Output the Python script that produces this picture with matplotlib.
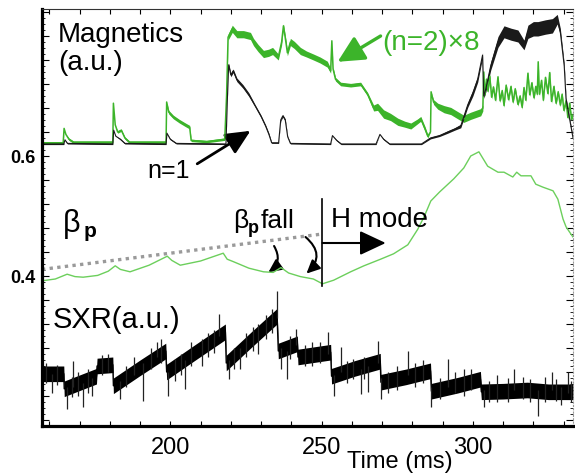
import numpy as np
import matplotlib
matplotlib.use("Agg")
import matplotlib.pyplot as plt
from matplotlib.patches import FancyArrowPatch
from matplotlib.ticker import MultipleLocator, FuncFormatter

plt.rcParams['font.family'] = ['Liberation Sans', 'DejaVu Sans']

# ---------------- data ----------------
# n=2 magnetic fluctuation amplitude (x8): time (ms), level, noise half-width
n2_t = [157.6, 164.6, 164.9, 165.5, 166.5, 168.0, 181.0, 181.2, 181.8, 182.6, 183.8, 185.0, 186.5,
        198.6, 198.8, 199.5, 201.0, 203.0, 205.0, 206.4, 206.9, 212.0, 218.0, 218.6, 219.1, 220.5,
        222.0, 224.2, 226.5, 227.5, 229.0, 230.8, 232.5, 233.8, 235.7, 236.8, 237.4, 238.2, 238.7,
        239.7, 241.0, 243.0, 245.0, 247.3, 249.5, 251.9, 253.0, 253.4, 253.8, 254.6, 256.3, 259.6,
        262.9, 265.2, 267.2, 268.5, 270.5, 272.8, 275.2, 277.5, 279.5, 281.8, 282.8, 284.2, 285.1,
        286.0, 286.2, 287.0, 288.4, 290.5, 292.7, 295.0, 297.0, 299.3, 302.6, 303.3,
        303.6, 304.0, 304.5, 305.0, 305.6, 306.2, 306.8, 307.5, 308.3, 309.0, 309.7, 310.3, 311.0,
        311.8, 312.6, 313.3, 314.0, 314.9, 315.6, 316.3, 316.9, 317.5, 318.2, 318.8, 319.5, 320.2,
        320.8, 321.3, 321.6, 322.0, 322.7, 323.3, 324.0, 324.8, 325.4, 326.0, 326.8, 327.5, 328.2,
        328.9, 329.5, 330.1, 330.8, 331.4, 332.0, 332.6, 333.1]
n2_y = [0.622, 0.622, 0.646, 0.636, 0.628, 0.623, 0.623, 0.688, 0.652, 0.640, 0.643, 0.630, 0.623,
        0.623, 0.690, 0.673, 0.665, 0.658, 0.652, 0.648, 0.626, 0.624, 0.628, 0.700, 0.798, 0.812,
        0.803, 0.803, 0.800, 0.790, 0.780, 0.770, 0.772, 0.775, 0.765, 0.790, 0.817, 0.790, 0.772,
        0.790, 0.785, 0.775, 0.770, 0.765, 0.760, 0.753, 0.742, 0.792, 0.745, 0.728, 0.720, 0.718,
        0.720, 0.703, 0.680, 0.682, 0.670, 0.665, 0.657, 0.653, 0.650, 0.658, 0.662, 0.645, 0.633,
        0.640, 0.707, 0.690, 0.683, 0.678, 0.675, 0.668, 0.662, 0.667, 0.673, 0.680,
        0.740, 0.702, 0.728, 0.708, 0.733, 0.698, 0.715, 0.693, 0.732, 0.692, 0.709, 0.684, 0.718,
        0.694, 0.716, 0.690, 0.712, 0.686, 0.700, 0.681, 0.714, 0.693, 0.738, 0.702, 0.722, 0.697,
        0.716, 0.703, 0.757, 0.703, 0.726, 0.693, 0.731, 0.704, 0.739, 0.691, 0.716, 0.688, 0.707,
        0.685, 0.703, 0.676, 0.692, 0.664, 0.688, 0.661, 0.669]
n2_w = [0.002, 0.002, 0.0, 0.0, 0.002, 0.002, 0.002, 0.0, 0.0, 0.002, 0.002, 0.002, 0.002,
        0.002, 0.0, 0.003, 0.003, 0.003, 0.003, 0.003, 0.002, 0.002, 0.002, 0.003, 0.005, 0.006,
        0.006, 0.006, 0.006, 0.006, 0.006, 0.006, 0.006, 0.006, 0.005, 0.005, 0.003, 0.005, 0.005,
        0.006, 0.006, 0.006, 0.005, 0.005, 0.005, 0.005, 0.004, 0.0, 0.003, 0.003, 0.003, 0.003,
        0.003, 0.003, 0.005, 0.006, 0.007, 0.006, 0.006, 0.005, 0.005, 0.004, 0.004, 0.004, 0.003,
        0.0, 0.0, 0.004, 0.005, 0.006, 0.006, 0.006, 0.006, 0.006, 0.006, 0.005,
        0.003, 0.003, 0.003, 0.003, 0.003, 0.003, 0.003, 0.003, 0.003, 0.003, 0.003, 0.003, 0.003,
        0.003, 0.003, 0.003, 0.003, 0.003, 0.003, 0.003, 0.003, 0.003, 0.003, 0.003, 0.003, 0.003,
        0.003, 0.003, 0.002, 0.003, 0.003, 0.003, 0.003, 0.003, 0.003, 0.003, 0.003, 0.003, 0.003,
        0.003, 0.003, 0.003, 0.003, 0.003, 0.003, 0.003, 0.003]

# n=1 magnetic fluctuation amplitude: time (ms), level, noise half-width
n1_t = [157.6, 164.8, 165.2, 166.0, 181.0, 181.3, 182.0, 183.5, 185.0, 198.6, 198.9, 200.0, 202.0,
        218.4, 218.9, 219.3, 220.0, 220.8, 222.0, 224.0, 226.0, 228.0, 230.0, 231.5, 232.6, 233.5,
        235.8, 236.5, 237.2, 238.0, 238.8, 239.7, 253.0, 253.6, 255.0, 256.5, 268.0, 269.3, 270.5,
        272.5, 283.0, 286.0, 289.0, 291.7, 294.0, 296.0, 298.3, 300.0, 301.6, 303.2, 303.6, 304.3,
        305.9, 308.3, 310.3, 312.6, 314.9, 316.9, 318.2, 320.0, 321.5, 324.0, 326.3, 327.9, 328.9,
        330.2, 330.8, 332.4, 333.1]
n1_y = [0.620, 0.620, 0.627, 0.621, 0.620, 0.643, 0.633, 0.628, 0.621, 0.620, 0.638, 0.628, 0.621,
        0.620, 0.700, 0.752, 0.735, 0.742, 0.727, 0.716, 0.702, 0.684, 0.666, 0.650, 0.636, 0.622,
        0.622, 0.660, 0.667, 0.660, 0.632, 0.621, 0.620, 0.634, 0.626, 0.620, 0.620, 0.636, 0.628,
        0.620, 0.620, 0.630, 0.634, 0.640, 0.645, 0.650, 0.685, 0.705, 0.728, 0.768, 0.700, 0.712,
        0.750, 0.790, 0.807, 0.803, 0.800, 0.785, 0.807, 0.812, 0.812, 0.815, 0.817, 0.828, 0.807,
        0.750, 0.695, 0.650, 0.630]
n1_w = [0.001, 0.001, 0.0, 0.001, 0.001, 0.0, 0.0, 0.001, 0.001, 0.001, 0.0, 0.001, 0.001,
        0.001, 0.002, 0.003, 0.003, 0.003, 0.003, 0.003, 0.003, 0.002, 0.002, 0.002, 0.002, 0.001,
        0.001, 0.002, 0.002, 0.002, 0.001, 0.001, 0.001, 0.0, 0.001, 0.001, 0.001, 0.0, 0.001,
        0.001, 0.001, 0.0015, 0.0015, 0.002, 0.002, 0.003, 0.004, 0.005, 0.005, 0.004, 0.004, 0.005,
        0.007, 0.009, 0.010, 0.010, 0.010, 0.008, 0.011, 0.012, 0.012, 0.012, 0.012, 0.008, 0.006,
        0.004, 0.003, 0.002, 0.002]

# poloidal beta
bp_t = [157.6, 162.0, 165.9, 168.5, 171.2, 176.0, 179.5, 181.8, 183.5, 186.7, 193.0, 199.0, 200.5,
        203.3, 210.0, 217.5, 218.8, 220.8, 226.0, 230.8, 234.0, 236.6, 239.1, 243.0, 247.3, 250.3,
        254.0, 259.6, 264.0, 269.5, 273.8, 278.5, 281.8, 284.0, 286.1, 289.0, 293.7, 297.0, 299.3,
        302.0, 304.9, 308.3, 310.3, 313.2, 314.5, 315.9, 319.2, 320.8, 323.2, 326.5, 328.1, 329.8,
        330.8, 332.4, 333.1]
bp_y = [0.392, 0.395, 0.403, 0.399, 0.398, 0.401, 0.408, 0.417, 0.411, 0.407, 0.418, 0.433, 0.426,
        0.418, 0.425, 0.438, 0.428, 0.424, 0.413, 0.407, 0.406, 0.414, 0.405, 0.399, 0.395, 0.387,
        0.393, 0.407, 0.417, 0.428, 0.437, 0.452, 0.478, 0.500, 0.525, 0.540, 0.562, 0.580, 0.600,
        0.607, 0.583, 0.573, 0.573, 0.565, 0.573, 0.567, 0.567, 0.553, 0.548, 0.542, 0.528, 0.495,
        0.482, 0.470, 0.465]

# extrapolated L-mode beta trend
trend_t = [157.6, 250.3]
trend_y = [0.411, 0.470]

# soft X-ray emission (sawteeth): time, level, noise half-width
sxr_t = [157.6, 164.8, 164.95, 170.0, 175.6, 175.8, 181.0, 181.2, 190.0, 198.5, 198.8, 208.0, 218.2,
         218.5, 227.0, 235.3, 235.7, 242.0, 242.2, 253.0, 253.3, 261.0, 269.4, 269.6, 278.0, 286.0,
         286.3, 295.0, 302.5, 302.8, 310.0, 318.0, 325.0, 333.1]
sxr_y = [0.237, 0.237, 0.212, 0.222, 0.233, 0.250, 0.252, 0.217, 0.247, 0.275, 0.240, 0.272, 0.307,
         0.255, 0.295, 0.333, 0.275, 0.287, 0.265, 0.273, 0.233, 0.246, 0.258, 0.223, 0.232, 0.242,
         0.208, 0.218, 0.228, 0.207, 0.208, 0.210, 0.207, 0.207]
sxr_w = [0.013] * len(sxr_t)

# SXR noise spikes: time, low end, high end
spk_t = [159.0, 161.0, 162.5, 166.0, 167.5, 168.0, 169.5, 171.2, 172.8, 174.0, 177.5, 179.5, 183.5,
         185.5, 188.0, 191.0, 193.5, 195.5, 197.0, 199.3, 201.5, 203.5, 205.0, 207.0, 210.5, 212.5,
         214.5, 216.0, 219.5, 221.0, 223.0, 225.0, 227.5, 229.0, 231.5, 233.5, 235.4, 236.5, 238.7,
         239.5, 241.4, 244.5, 247.0, 249.5, 252.0, 254.0, 256.3, 258.5, 260.5, 262.9, 264.0, 265.2,
         268.5, 269.8, 272.0, 275.0, 278.5, 281.0, 283.5, 286.3, 289.0, 291.7, 294.0, 297.0, 299.5,
         303.6, 305.5, 308.0, 311.5, 313.6, 316.5, 319.0, 321.5, 324.0, 326.0, 327.5, 329.1, 331.5,
         332.5]
spk_lo = [0.222, 0.205, 0.218, 0.178, 0.198, 0.215, 0.200, 0.182, 0.205, 0.200, 0.235, 0.240, 0.195,
          0.215, 0.235, 0.192, 0.245, 0.265, 0.255, 0.200, 0.225, 0.235, 0.212, 0.250, 0.250, 0.265,
          0.272, 0.300, 0.228, 0.245, 0.245, 0.265, 0.275, 0.270, 0.295, 0.305, 0.330, 0.245, 0.228,
          0.262, 0.285, 0.250, 0.250, 0.255, 0.270, 0.200, 0.240, 0.222, 0.228, 0.203, 0.228, 0.207,
          0.255, 0.195, 0.205, 0.210, 0.235, 0.215, 0.222, 0.182, 0.195, 0.215, 0.205, 0.200, 0.210,
          0.182, 0.190, 0.190, 0.190, 0.210, 0.195, 0.190, 0.167, 0.190, 0.210, 0.192, 0.185, 0.205,
          0.190]
spk_hi = [0.255, 0.237, 0.252, 0.215, 0.232, 0.258, 0.240, 0.222, 0.245, 0.230, 0.268, 0.270, 0.225,
          0.250, 0.265, 0.255, 0.280, 0.290, 0.295, 0.240, 0.262, 0.270, 0.260, 0.290, 0.295, 0.305,
          0.310, 0.337, 0.260, 0.280, 0.280, 0.305, 0.315, 0.320, 0.335, 0.345, 0.375, 0.280, 0.275,
          0.300, 0.312, 0.285, 0.290, 0.290, 0.307, 0.235, 0.282, 0.258, 0.262, 0.245, 0.265, 0.250,
          0.292, 0.230, 0.240, 0.250, 0.275, 0.255, 0.260, 0.215, 0.230, 0.262, 0.240, 0.245, 0.245,
          0.210, 0.225, 0.235, 0.230, 0.245, 0.232, 0.228, 0.210, 0.232, 0.240, 0.228, 0.215, 0.240,
          0.225]

x_ticks = [200, 250, 300]
y_labelled = [0.4, 0.6]

GREEN = '#3cb42a'
BETA_GREEN = '#6ccf5c'

# ---------------- figure ----------------
fig = plt.figure(figsize=(5.75, 4.77), dpi=100)
ax = fig.add_axes([42 / 575, 50 / 477, 531 / 575, 417 / 477])
ax.set_xlim(157.6, 333.1)
ax.set_ylim(0.15, 0.845)


def noisy_trace(t, y, w, color, lw):
    t = np.asarray(t)
    y = np.asarray(y)
    w = np.asarray(w)
    ax.fill_between(t, y - w, y + w, color=color, lw=0)
    ax.plot(t, y, color=color, lw=lw)


noisy_trace(n2_t, n2_y, n2_w, GREEN, 1.1)
noisy_trace(n1_t, n1_y, n1_w, '#1a1a1a', 0.8)
noisy_trace(sxr_t, sxr_y, sxr_w, 'black', 1.0)
ax.vlines(spk_t, spk_lo, spk_hi, color='#222222', lw=0.9)

ax.plot(bp_t, bp_y, color=BETA_GREEN, lw=1.0)
ax.plot(trend_t, trend_y, color='#9a9a9a', lw=2.4, linestyle=(0, (1, 1.3)))

# H-mode onset marker
ax.plot([250.3, 250.3], [0.383, 0.528], color='black', lw=1.2)


def arrow(tail, tip, color='black', lw=1.8, hl=16, hw=7, rad=0.0):
    a = FancyArrowPatch(tail, tip, arrowstyle=f"-|>,head_length={hl},head_width={hw}",
                        mutation_scale=1, color=color, lw=lw, shrinkA=0, shrinkB=0,
                        connectionstyle=f"arc3,rad={rad}")
    ax.add_patch(a)


arrow((250.3, 0.455), (271.2, 0.455), lw=1.5, hl=16, hw=7.5)
arrow((208.9, 0.587), (226.5, 0.642), lw=2.0, hl=15, hw=7)
arrow((269.5, 0.800), (255.3, 0.757), color=GREEN, lw=2.4, hl=16, hw=8)
arrow((234.3, 0.450), (232.4, 0.406), lw=1.5, hl=8, hw=3.8, rad=-0.45)
arrow((244.7, 0.465), (245.0, 0.404), lw=1.5, hl=8, hw=3.8, rad=-0.55)

# ---------------- labels ----------------
ax.text(162.9, 0.792, "Magnetics", fontsize=20, ha='left', va='baseline')
ax.text(162.9, 0.745, "(a.u.)", fontsize=20, ha='left', va='baseline')
ax.text(192.4, 0.565, "n=1", fontsize=18, ha='left', va='baseline')
ax.text(270.2, 0.778, "(n=2)\u00d78", fontsize=20, color=GREEN, ha='left', va='baseline')
ax.text(164.6, 0.475, "\u03b2", fontsize=22, ha='left', va='baseline')
ax.text(171.2, 0.467, "p", fontsize=15, fontweight='bold', ha='left', va='baseline')
ax.text(220.8, 0.482, "\u03b2", fontsize=19, ha='left', va='baseline')
ax.text(225.5, 0.474, "p", fontsize=13, fontweight='bold', ha='left', va='baseline')
ax.text(229.8, 0.482, "fall", fontsize=19, ha='left', va='baseline')
ax.text(253.0, 0.483, "H mode", fontsize=20, ha='left', va='baseline')
ax.text(161.2, 0.315, "SXR(a.u.)", fontsize=21, ha='left', va='baseline')
fig.text(347 / 575, 9 / 477, "Time (ms)", fontsize=17, ha='left', va='baseline')

# ---------------- axes styling ----------------
ax.set_xticks(x_ticks)
ax.xaxis.set_minor_locator(MultipleLocator(10))
ax.yaxis.set_major_locator(MultipleLocator(0.04))
ax.yaxis.set_minor_locator(MultipleLocator(0.01))
ax.yaxis.set_major_formatter(FuncFormatter(
    lambda v, p: (f"{v:.1f}" if any(abs(v - l) < 1e-6 for l in y_labelled) else "")))

ax.tick_params(axis='x', which='both', direction='in', top=True, labelsize=17, pad=7,
               length=3.5, width=0.8)
ax.tick_params(axis='y', which='major', direction='in', right=True, length=5, width=0.8,
               labelsize=13, pad=5)
ax.tick_params(axis='y', which='minor', direction='in', right=True, length=2.5, width=0.6)
for lab in ax.get_yticklabels():
    lab.set_fontweight('bold')

ax.spines['left'].set_linewidth(2.3)
ax.spines['bottom'].set_linewidth(2.3)
ax.spines['top'].set_linewidth(0.8)
ax.spines['top'].set_color('#333333')
ax.spines['right'].set_linewidth(0.8)
ax.spines['right'].set_color('#9a9a9a')
ax.spines['right'].set_linestyle((0, (1, 2)))

fig.savefig("out.png", dpi=100)
